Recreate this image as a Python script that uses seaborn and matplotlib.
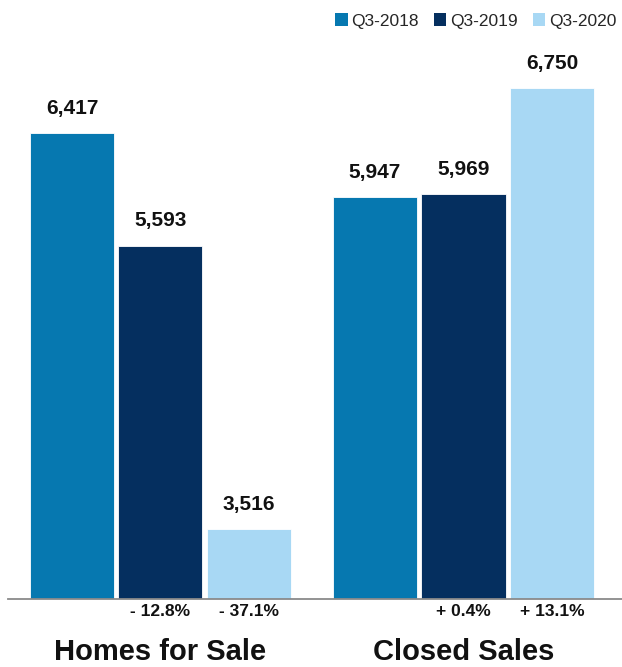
import matplotlib
matplotlib.use("Agg")
import matplotlib.pyplot as plt
from matplotlib.patches import Patch
import seaborn as sns
import pandas as pd

# Quarterly housing figures
categories = ["Homes for Sale", "Closed Sales"]
periods = ["Q3-2018", "Q3-2019", "Q3-2020"]
homes_for_sale = [6417, 5593, 3516]
closed_sales = [5947, 5969, 6750]
colors = ["#0678B0", "#052F5F", "#A8D8F4"]

rows = []
for cat, vals in zip(categories, [homes_for_sale, closed_sales]):
    for per, v in zip(periods, vals):
        rows.append({"category": cat, "period": per, "value": v})
df = pd.DataFrame(rows)

sns.set_style("white")
plt.rcParams["font.family"] = ["Liberation Sans", "DejaVu Sans"]

fig = plt.figure(figsize=(6.22, 6.67), dpi=100)
ax = fig.add_axes([8 / 622, 68 / 667, 614 / 622, 599 / 667])

sns.barplot(data=df, x="category", y="value", hue="period", order=categories,
            hue_order=periods, palette=colors, saturation=1, width=0.876, gap=0.05,
            edgecolor="white", linewidth=0.6, legend=False, ax=ax)

ax.set_ylim(3003, 7395)
ax.set_xlim(-0.503, 1.523)

# Value labels above bars
for container in ax.containers:
    ax.bar_label(container, labels=[f"{v:,.0f}" for v in container.datavalues],
                 padding=11, fontsize=15, fontweight="bold", color="#111111")

# Year-over-year change under each later bar
bars = sorted(ax.patches, key=lambda p: p.get_x())
groups = [homes_for_sale, closed_sales]
for gi, vals in enumerate(groups):
    for k in range(1, len(vals)):
        pct = (vals[k] - vals[k - 1]) / vals[k - 1] * 100
        sign = "+" if pct >= 0 else "-"
        txt = f"{sign} {abs(pct):.1f}%"
        bar = bars[gi * 3 + k]
        xc = bar.get_x() + bar.get_width() / 2
        ax.annotate(txt, xy=(xc, 0), xycoords=("data", "axes fraction"),
                    xytext=(0, -9), textcoords="offset points",
                    ha="center", va="center", fontsize=12.5, fontweight="bold",
                    color="#111111", annotation_clip=False)

ax.set_xlabel("")
ax.set_ylabel("")
ax.set_yticks([])
ax.tick_params(axis="x", length=0, pad=28)
for lbl in ax.get_xticklabels():
    lbl.set_fontsize(21)
    lbl.set_fontweight("bold")
    lbl.set_color("#111111")

for side in ["top", "right", "left"]:
    ax.spines[side].set_visible(False)
ax.spines["bottom"].set_color("#8a8a8a")
ax.spines["bottom"].set_linewidth(1.3)

handles = [Patch(facecolor=c, edgecolor="none", label=p) for c, p in zip(colors, periods)]
fig.legend(handles=handles, loc="upper right", bbox_to_anchor=(1.01, 0.998),
           ncol=3, frameon=False, fontsize=12.5, handlelength=0.7,
           handleheight=0.7, handletextpad=0.2, columnspacing=0.9,
           borderaxespad=0.3)

fig.savefig("out.png", dpi=100)
